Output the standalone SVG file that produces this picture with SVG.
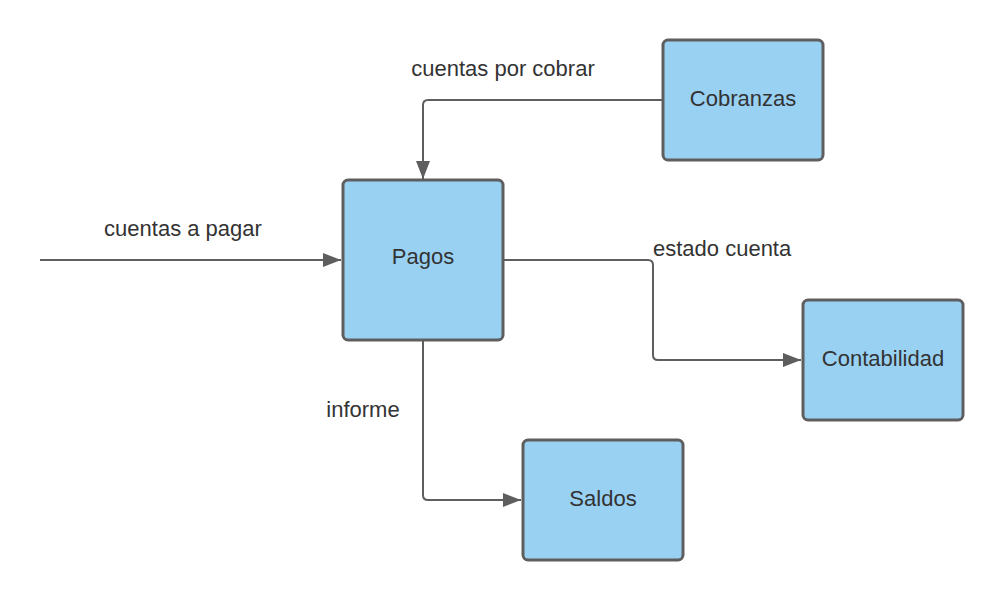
<svg xmlns="http://www.w3.org/2000/svg" width="1003" height="600" viewBox="0 0 1003 600">
<style>
.node{fill:#99d1f3;stroke:#5e5e5e;stroke-width:3}
.lbl{font-family:"Liberation Sans",Arial,sans-serif;font-size:22px;fill:#333333}
.c{text-anchor:middle}
.edge{fill:none;stroke:#5e5e5e;stroke-width:2;stroke-linejoin:round}
</style>
<defs>
<marker id="arr" markerWidth="18" markerHeight="14" refX="18" refY="7" orient="auto" markerUnits="userSpaceOnUse" viewBox="0 0 18 14">
<path d="M0,0 L18,7 L0,14 Z" fill="#5e5e5e"/>
</marker>
</defs>
<rect width="1003" height="600" fill="#ffffff"/>
<g id="connectors">
<path class="edge" d="M40,260 H341" marker-end="url(#arr)"/>
<path class="edge" d="M662,100 H428 Q423,100 423,105 V179" marker-end="url(#arr)"/>
<path class="edge" d="M504,260 H648 Q653,260 653,265 V355 Q653,360 658,360 H801" marker-end="url(#arr)"/>
<path class="edge" d="M423,341 V495 Q423,500 428,500 H521" marker-end="url(#arr)"/>
</g>
<g id="labels">
<text class="lbl c" x="183" y="236">cuentas a pagar</text>
<text class="lbl c" x="503" y="76">cuentas por cobrar</text>
<text class="lbl" x="653" y="256">estado cuenta</text>
<text class="lbl c" x="363" y="417">informe</text>
</g>
<g id="node-cobranzas">
<rect class="node" x="663" y="40" width="160" height="120" rx="5"/>
<text class="lbl c" x="743" y="106">Cobranzas</text>
</g>
<g id="node-pagos">
<rect class="node" x="343" y="180" width="160" height="160" rx="5"/>
<text class="lbl c" x="423" y="264">Pagos</text>
</g>
<g id="node-contabilidad">
<rect class="node" x="803" y="300" width="160" height="120" rx="5"/>
<text class="lbl c" x="883" y="366">Contabilidad</text>
</g>
<g id="node-saldos">
<rect class="node" x="523" y="440" width="160" height="120" rx="5"/>
<text class="lbl c" x="603" y="506">Saldos</text>
</g>
</svg>
